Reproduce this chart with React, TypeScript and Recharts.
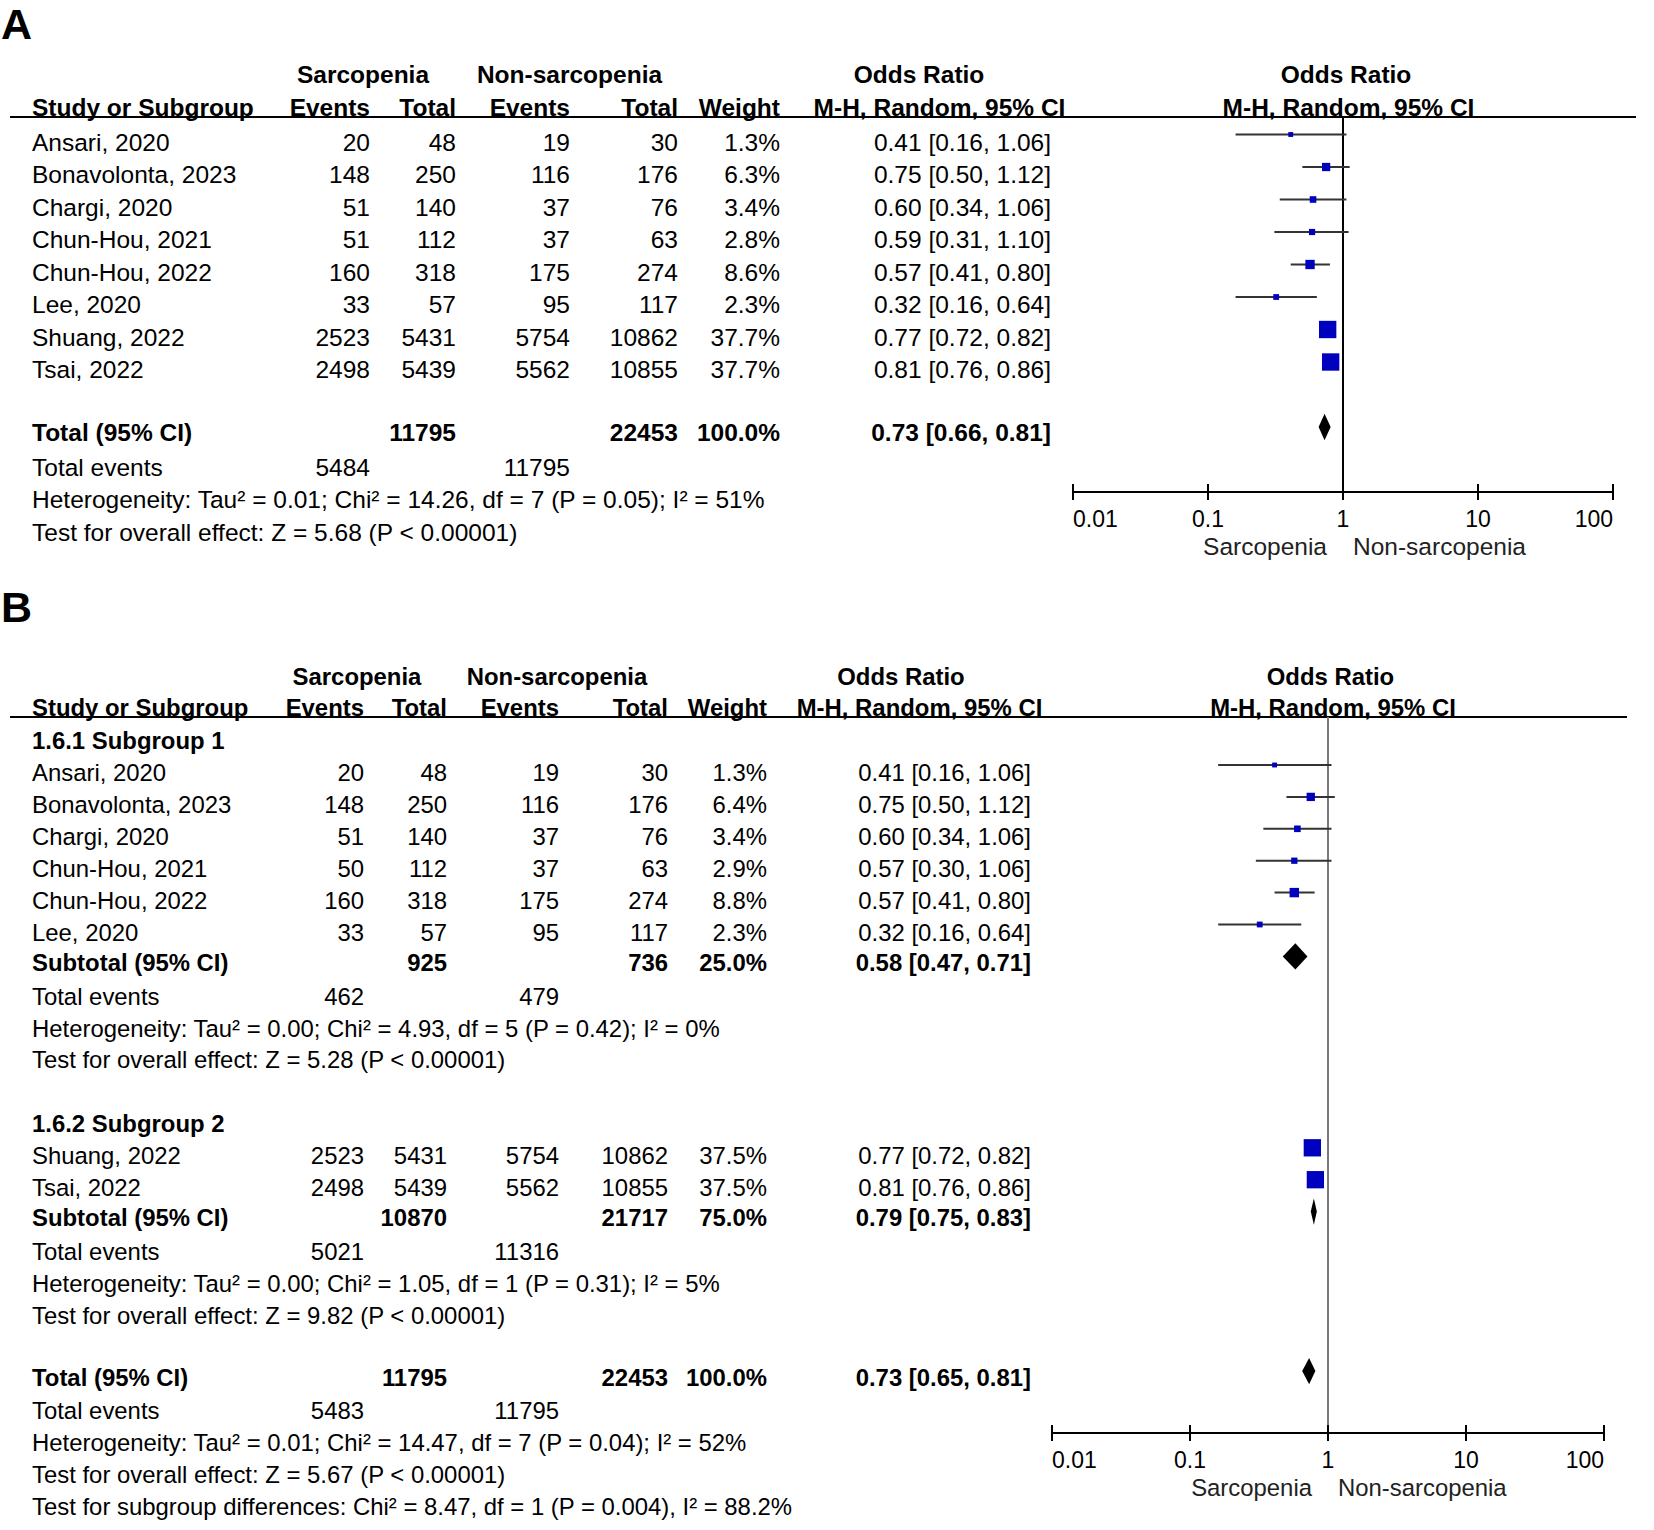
import React from "react";
import {
  ComposedChart,
  Scatter,
  ErrorBar,
  Area,
  XAxis,
  YAxis,
  ReferenceLine
} from "recharts";

const FONT = '"Liberation Sans", Arial, Helvetica, sans-serif';

// ---- panel A: all studies pooled ----
const studiesA = ["Ansari, 2020", "Bonavolonta, 2023", "Chargi, 2020", "Chun-Hou, 2021", "Chun-Hou, 2022", "Lee, 2020", "Shuang, 2022", "Tsai, 2022"];
const sarcEventsA = [20, 148, 51, 51, 160, 33, 2523, 2498];
const sarcTotalA = [48, 250, 140, 112, 318, 57, 5431, 5439];
const nonEventsA = [19, 116, 37, 37, 175, 95, 5754, 5562];
const nonTotalA = [30, 176, 76, 63, 274, 117, 10862, 10855];
const weightA = [1.3, 6.3, 3.4, 2.8, 8.6, 2.3, 37.7, 37.7];
const orA = [0.41, 0.75, 0.6, 0.59, 0.57, 0.32, 0.77, 0.81];
const loA = [0.16, 0.5, 0.34, 0.31, 0.41, 0.16, 0.72, 0.76];
const hiA = [1.06, 1.12, 1.06, 1.1, 0.8, 0.64, 0.82, 0.86];

const summaryLabelA = ["Total (95% CI)"];
const summaryTot1A = [11795];
const summaryTot2A = [22453];
const summaryWtA = [100.0];
const summaryOrA = [0.73];
const summaryLoA = [0.66];
const summaryHiA = [0.81];
const summaryEv1A = [5484];
const summaryEv2A = [11795];
const hetA = ["Tau² = 0.01; Chi² = 14.26, df = 7 (P = 0.05); I² = 51%"];
const effectA = ["Z = 5.68 (P < 0.00001)"];

// ---- panel B: two subgroups ----
const groupTitlesB = ["1.6.1 Subgroup 1", "1.6.2 Subgroup 2"];
const studiesB = [
  ["Ansari, 2020", "Bonavolonta, 2023", "Chargi, 2020", "Chun-Hou, 2021", "Chun-Hou, 2022", "Lee, 2020"],
  ["Shuang, 2022", "Tsai, 2022"]
];
const sarcEventsB = [[20, 148, 51, 50, 160, 33], [2523, 2498]];
const sarcTotalB = [[48, 250, 140, 112, 318, 57], [5431, 5439]];
const nonEventsB = [[19, 116, 37, 37, 175, 95], [5754, 5562]];
const nonTotalB = [[30, 176, 76, 63, 274, 117], [10862, 10855]];
const weightB = [[1.3, 6.4, 3.4, 2.9, 8.8, 2.3], [37.5, 37.5]];
const orB = [[0.41, 0.75, 0.6, 0.57, 0.57, 0.32], [0.77, 0.81]];
const loB = [[0.16, 0.5, 0.34, 0.3, 0.41, 0.16], [0.72, 0.76]];
const hiB = [[1.06, 1.12, 1.06, 1.06, 0.8, 0.64], [0.82, 0.86]];

const summaryLabelB = ["Subtotal (95% CI)", "Subtotal (95% CI)", "Total (95% CI)"];
const summaryTot1B = [925, 10870, 11795];
const summaryTot2B = [736, 21717, 22453];
const summaryWtB = [25.0, 75.0, 100.0];
const summaryOrB = [0.58, 0.79, 0.73];
const summaryLoB = [0.47, 0.75, 0.65];
const summaryHiB = [0.71, 0.83, 0.81];
const summaryEv1B = [462, 5021, 5483];
const summaryEv2B = [479, 11316, 11795];
const hetB = [
  "Tau² = 0.00; Chi² = 4.93, df = 5 (P = 0.42); I² = 0%",
  "Tau² = 0.00; Chi² = 1.05, df = 1 (P = 0.31); I² = 5%",
  "Tau² = 0.01; Chi² = 14.47, df = 7 (P = 0.04); I² = 52%"
];
const effectB = ["Z = 5.28 (P < 0.00001)", "Z = 9.82 (P < 0.00001)", "Z = 5.67 (P < 0.00001)"];
const subgroupDiffB = "Test for subgroup differences: Chi² = 8.47, df = 1 (P = 0.004), I² = 88.2%";

const orTicks = [0.01, 0.1, 1, 10, 100];

// ---- layout ----
const layoutA = {
  base: 134, pitch: 32.5, textDy: 8.5, sumDy: -2, size: 24.5,
  ruleY: 116.5, ruleL: 10, ruleR: 1636, head1: 74.5, head2: 107.5,
  name: 32, ev1: 370, tot1: 456, ev2: 570, tot2: 678, wt: 780, ci: 1051,
  sarcHead: 363, nonHead: 569.5, orHead: 919, mhHead: 939.5, plotHead: 1346, plotHead2: 1348.5,
  plotL: 1073, plotR: 1613, axisY: 491.5, refColor: "#000", favY: 547,
  letter: "A", letterY: 24
};
const layoutB = {
  base: 765, pitch: 31.9, textDy: 8, sumDy: -1.5, size: 23.9,
  ruleY: 717, ruleL: 10, ruleR: 1627, head1: 676.5, head2: 707.5,
  name: 32, ev1: 364, tot1: 447, ev2: 559, tot2: 668, wt: 767, ci: 1031,
  sarcHead: 357, nonHead: 557, orHead: 901, mhHead: 919.5, plotHead: 1330.5, plotHead2: 1333,
  plotL: 1052, plotR: 1604, axisY: 1433, refColor: "#7a7a7a", favY: 1488,
  letter: "B", letterY: 607
};

const ciText = (o: number, l: number, h: number) => `${o.toFixed(2)} [${l.toFixed(2)}, ${h.toFixed(2)}]`;
const pct = (w: number) => `${w.toFixed(1)}%`;

// y is the visual centre of the capitals
function T({ x, y, children, align = "left", bold = false, size = 24, color = "#000", lh = 1 }: any) {
  const style: React.CSSProperties = {
    position: "absolute",
    top: y - size * ((lh - 1.117) / 2 + 0.547),
    fontSize: size,
    lineHeight: `${size * lh}px`,
    fontWeight: bold ? 700 : 400,
    whiteSpace: "nowrap",
    color,
    fontFamily: FONT
  };
  if (align === "left") style.left = x;
  else if (align === "right") {
    style.left = x - 900;
    style.width = 900;
    style.textAlign = "right";
  } else {
    style.left = x - 450;
    style.width = 900;
    style.textAlign = "center";
  }
  return <div style={style}>{children}</div>;
}

const Square = (p: any) => {
  const s = 2 + 2.5 * Math.sqrt(p.payload.w);
  return <rect x={p.cx - s / 2} y={p.cy - s / 2} width={s} height={s} fill="#0000bf" />;
};

function AxisTick(props: any) {
  const { x, y, payload, index } = props;
  const anchor = index === 0 ? "start" : index === orTicks.length - 1 ? "end" : "middle";
  return (
    <g>
      <line x1={x} x2={x} y1={y - 8} y2={y + 8} stroke="#000" strokeWidth={2} />
      <text x={x} y={y + 27} textAnchor={anchor} dominantBaseline="central" fontSize={23} fontFamily={FONT} fill="#000">
        {String(payload.value)}
      </text>
    </g>
  );
}

function Forest({ L, points, diamonds }: any) {
  const M = 60;
  const XH = 70;
  const plotW = L.plotR - L.plotL;
  const plotH = L.axisY - L.ruleY;
  const kTop = (L.ruleY - L.base) / L.pitch;
  const kBot = (L.axisY - L.base) / L.pitch;
  return (
    <div style={{ position: "absolute", left: L.plotL - M, top: L.ruleY }}>
      <ComposedChart width={plotW + 2 * M} height={plotH + XH} margin={{ top: 0, right: M, bottom: 0, left: M }}>
        <XAxis
          dataKey="x"
          type="number"
          scale="log"
          domain={[0.01, 100]}
          ticks={orTicks}
          interval={0}
          allowDataOverflow
          axisLine={{ stroke: "#000", strokeWidth: 2 }}
          tickLine={false}
          tickSize={0}
          tickMargin={0}
          height={XH}
          tick={(p: any) => <AxisTick {...p} />}
        />
        <YAxis dataKey="y" type="number" domain={[kTop, kBot]} reversed hide allowDataOverflow width={0} />
        <ReferenceLine x={1} stroke={L.refColor} strokeWidth={2} />
        {diamonds.map((d: any, i: number) => (
          <Area
            key={i}
            data={d}
            dataKey="d"
            type="linear"
            stroke="none"
            fill="#000"
            fillOpacity={1}
            dot={false}
            activeDot={false}
            isAnimationActive={false}
          />
        ))}
        <Scatter data={points} shape={Square} isAnimationActive={false}>
          <ErrorBar dataKey="err" direction="x" width={0} stroke="#333" strokeWidth={2} />
        </Scatter>
      </ComposedChart>
    </div>
  );
}

const HALF = 0.41;
const diamond = (o: number, l: number, h: number, k: number) => [
  { x: l, d: [k, k] },
  { x: o, d: [k - HALF, k + HALF] },
  { x: h, d: [k, k] }
];

function Header({ L }: any) {
  const s = L.size;
  return (
    <>
      <T x={1} y={L.letterY} bold size={43}>{L.letter}</T>
      <T x={L.sarcHead} y={L.head1} align="center" bold size={s}>Sarcopenia</T>
      <T x={L.nonHead} y={L.head1} align="center" bold size={s}>Non-sarcopenia</T>
      <T x={L.orHead} y={L.head1} align="center" bold size={s}>Odds Ratio</T>
      <T x={L.plotHead} y={L.head1} align="center" bold size={s}>Odds Ratio</T>
      <T x={L.name} y={L.head2} bold size={s}>Study or Subgroup</T>
      <T x={L.ev1} y={L.head2} align="right" bold size={s}>Events</T>
      <T x={L.tot1} y={L.head2} align="right" bold size={s}>Total</T>
      <T x={L.ev2} y={L.head2} align="right" bold size={s}>Events</T>
      <T x={L.tot2} y={L.head2} align="right" bold size={s}>Total</T>
      <T x={L.wt} y={L.head2} align="right" bold size={s}>Weight</T>
      <T x={L.mhHead} y={L.head2} align="center" bold size={s}>M-H, Random, 95% CI</T>
      <T x={L.plotHead2} y={L.head2} align="center" bold size={s}>M-H, Random, 95% CI</T>
      <div style={{ position: "absolute", left: L.ruleL, width: L.ruleR - L.ruleL, top: L.ruleY - 1, height: 2, background: "#000" }} />
      <T x={L.plotL + (L.plotR - L.plotL) / 2 - 16} y={L.favY} align="right" size={s} color="#222">Sarcopenia</T>
      <T x={L.plotL + (L.plotR - L.plotL) / 2 + 10} y={L.favY} size={s} color="#222">Non-sarcopenia</T>
    </>
  );
}

function StudyRows({ L, k0, names, ev1, tot1, ev2, tot2, wt, or, lo, hi }: any) {
  const s = L.size;
  return (
    <>
      {names.map((n: string, i: number) => {
        const y = L.base + L.pitch * (k0 + i) + L.textDy;
        return (
          <React.Fragment key={n + i}>
            <T x={L.name} y={y} size={s}>{n}</T>
            <T x={L.ev1} y={y} align="right" size={s}>{ev1[i]}</T>
            <T x={L.tot1} y={y} align="right" size={s}>{tot1[i]}</T>
            <T x={L.ev2} y={y} align="right" size={s}>{ev2[i]}</T>
            <T x={L.tot2} y={y} align="right" size={s}>{tot2[i]}</T>
            <T x={L.wt} y={y} align="right" size={s}>{pct(wt[i])}</T>
            <T x={L.ci} y={y} align="right" size={s}>{ciText(or[i], lo[i], hi[i])}</T>
          </React.Fragment>
        );
      })}
    </>
  );
}

function SummaryRows({ L, k, label, tot1, tot2, wt, or, lo, hi, ev1, ev2, het, effect }: any) {
  const s = L.size;
  const y = (j: number) => L.base + L.pitch * (k + j) + L.textDy;
  const y0 = y(0) + L.sumDy;
  return (
    <>
      <T x={L.name} y={y0} bold size={s}>{label}</T>
      <T x={L.tot1} y={y0} align="right" bold size={s}>{tot1}</T>
      <T x={L.tot2} y={y0} align="right" bold size={s}>{tot2}</T>
      <T x={L.wt} y={y0} align="right" bold size={s}>{pct(wt)}</T>
      <T x={L.ci} y={y0} align="right" bold size={s}>{ciText(or, lo, hi)}</T>
      <T x={L.name} y={y(1)} size={s}>Total events</T>
      <T x={L.ev1} y={y(1)} align="right" size={s}>{ev1}</T>
      <T x={L.ev2} y={y(1)} align="right" size={s}>{ev2}</T>
      <T x={L.name} y={y(2)} size={s}>{"Heterogeneity: " + het}</T>
      <T x={L.name} y={y(3)} size={s}>{"Test for overall effect: " + effect}</T>
    </>
  );
}

function PanelA() {
  const L = layoutA;
  const points = orA.map((o, i) => ({ x: o, y: i, err: [o - loA[i], hiA[i] - o], w: weightA[i] }));
  const diamonds = [diamond(summaryOrA[0], summaryLoA[0], summaryHiA[0], 9)];
  return (
    <>
      <Header L={L} />
      <StudyRows L={L} k0={0} names={studiesA} ev1={sarcEventsA} tot1={sarcTotalA} ev2={nonEventsA} tot2={nonTotalA} wt={weightA} or={orA} lo={loA} hi={hiA} />
      <SummaryRows
        L={L} k={9} label={summaryLabelA[0]} tot1={summaryTot1A[0]} tot2={summaryTot2A[0]} wt={summaryWtA[0]}
        or={summaryOrA[0]} lo={summaryLoA[0]} hi={summaryHiA[0]} ev1={summaryEv1A[0]} ev2={summaryEv2A[0]}
        het={hetA[0]} effect={effectA[0]}
      />
      <Forest L={L} points={points} diamonds={diamonds} />
    </>
  );
}

function PanelB() {
  const L = layoutB;
  const s = L.size;
  const studyK0 = [0, 12];
  const titleK = [-1, 11];
  const summaryK = [6, 14, 19];
  const points = orB.flatMap((grp, g) =>
    grp.map((o, i) => ({ x: o, y: studyK0[g] + i, err: [o - loB[g][i], hiB[g][i] - o], w: weightB[g][i] }))
  );
  const diamonds = summaryOrB.map((o, j) => diamond(o, summaryLoB[j], summaryHiB[j], summaryK[j]));
  return (
    <>
      <Header L={L} />
      {groupTitlesB.map((t, g) => (
        <React.Fragment key={t}>
          <T x={L.name} y={L.base + L.pitch * titleK[g] + L.textDy} bold size={s}>{t}</T>
          <StudyRows
            L={L} k0={studyK0[g]} names={studiesB[g]} ev1={sarcEventsB[g]} tot1={sarcTotalB[g]}
            ev2={nonEventsB[g]} tot2={nonTotalB[g]} wt={weightB[g]} or={orB[g]} lo={loB[g]} hi={hiB[g]}
          />
        </React.Fragment>
      ))}
      {summaryLabelB.map((lab, j) => (
        <SummaryRows
          key={j} L={L} k={summaryK[j]} label={lab} tot1={summaryTot1B[j]} tot2={summaryTot2B[j]} wt={summaryWtB[j]}
          or={summaryOrB[j]} lo={summaryLoB[j]} hi={summaryHiB[j]} ev1={summaryEv1B[j]} ev2={summaryEv2B[j]}
          het={hetB[j]} effect={effectB[j]}
        />
      ))}
      <T x={L.name} y={L.base + L.pitch * 23 + L.textDy} size={s}>{subgroupDiffB}</T>
      <Forest L={L} points={points} diamonds={diamonds} />
    </>
  );
}

export default function App() {
  return (
    <div style={{ position: "absolute", left: 0, top: 0, width: 1654, height: 1530, background: "#fff", fontFamily: FONT, overflow: "hidden" }}>
      <PanelA />
      <PanelB />
    </div>
  );
}
